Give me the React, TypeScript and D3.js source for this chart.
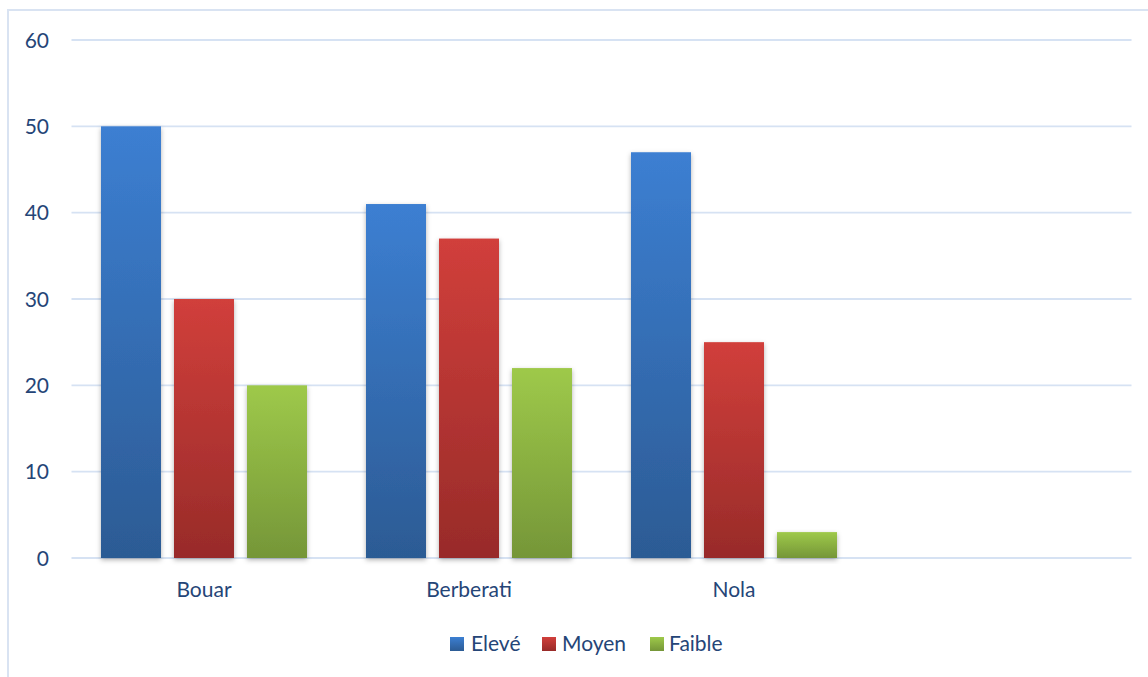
import React from "react";
import * as d3 from "d3";

const categories = ["Bouar", "Berberati", "Nola", ""];
const seriesNames = ["Elevé", "Moyen", "Faible"];
const eleve = [50, 41, 47, null];
const moyen = [30, 37, 25, null];
const faible = [20, 22, 3, null];
const yTicks = [0, 10, 20, 30, 40, 50, 60];

const W = 1148;
const H = 677;
const left = 71.5;
const right = 1131.5;
const top = 40;
const bottom = 558;

const gradients = [
  { id: "gBlue", top: "#3c7fd2", bottom: "#2c5b94" },
  { id: "gRed", top: "#d13f3b", bottom: "#982b29" },
  { id: "gGreen", top: "#9ec94a", bottom: "#759638" },
];

const textColor = "#254577";
const gridColor = "#d6e2f3";
const font = "Lato, 'Open Sans', sans-serif";

export default function App() {
  const series = [eleve, moyen, faible];
  const x0 = d3.scaleBand<string>().domain(categories.map((c, i) => String(i))).range([left, right]).paddingInner(0).paddingOuter(0);
  const groupW = 206;
  const x1 = d3
    .scaleBand<string>()
    .domain(seriesNames)
    .range([(x0.bandwidth() - groupW) / 2, (x0.bandwidth() + groupW) / 2])
    .paddingInner(13 / 73)
    .paddingOuter(0);
  const y = d3.scaleLinear().domain([0, 60]).range([bottom, top]);

  const legendItems = [
    { name: seriesNames[0], sq: 450, tx: 471 },
    { name: seriesNames[1], sq: 542, tx: 562 },
    { name: seriesNames[2], sq: 650, tx: 669 },
  ];

  return (
    <svg
      width={W}
      height={H}
      style={{ position: "fixed", left: 0, top: 0, background: "#fff" }}
      fontFamily={font}
    >
      <defs>
        {gradients.map((g) => (
          <linearGradient key={g.id} id={g.id} x1="0" y1="0" x2="0" y2="1">
            <stop offset="0" stopColor={g.top} />
            <stop offset="1" stopColor={g.bottom} />
          </linearGradient>
        ))}
        <filter id="shadow" x="-30%" y="-10%" width="160%" height="130%">
          <feDropShadow dx="0" dy="2" stdDeviation="2.5" floodColor="#000" floodOpacity="0.3" />
        </filter>
      </defs>
      <rect x={0} y={0} width={W} height={H} fill="#fff" />
      <rect x={8} y={10} width={W + 20} height={H + 20} fill="none" stroke="#d9e3f2" strokeWidth={2} />

      {yTicks.map((t) => (
        <g key={t}>
          <line x1={left} x2={right} y1={y(t)} y2={y(t)} stroke={gridColor} strokeWidth={1.8} />
          <text x={49} y={y(t)} dy="0.36em" textAnchor="end" fontSize={21} fill={textColor}>
            {t}
          </text>
        </g>
      ))}

      {categories.map((c, ci) => (
        <g key={ci} transform={`translate(${x0(String(ci))},0)`}>
          {series.map((s, si) => {
            const v = s[ci];
            if (v == null) return null;
            return (
              <rect
                key={si}
                x={x1(seriesNames[si])}
                y={y(v)}
                width={x1.bandwidth()}
                height={y(0) - y(v)}
                fill={`url(#${gradients[si].id})`}
                filter="url(#shadow)"
              />
            );
          })}
          {c && (
            <text x={x0.bandwidth() / 2} y={597} textAnchor="middle" fontSize={21} fill={textColor}>
              {c}
            </text>
          )}
        </g>
      ))}

      {legendItems.map((l, i) => (
        <g key={l.name}>
          <rect x={l.sq} y={637} width={14} height={14} fill={`url(#${gradients[i].id})`} />
          <text x={l.tx} y={651} fontSize={21} fill={textColor}>
            {l.name}
          </text>
        </g>
      ))}
    </svg>
  );
}
